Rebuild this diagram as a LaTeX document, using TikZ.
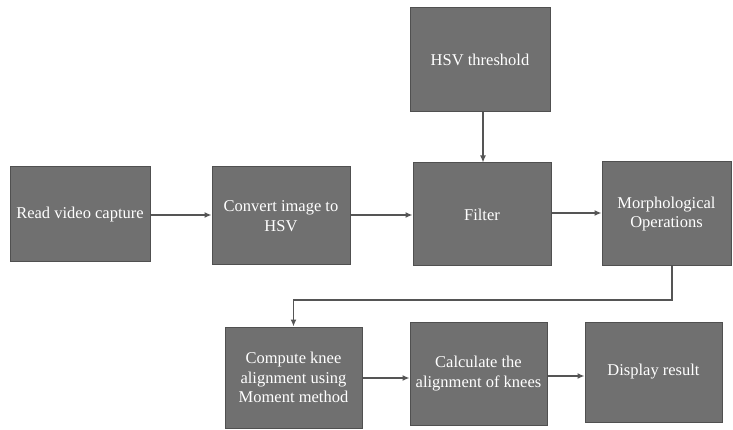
\documentclass[tikz,border=0pt]{standalone}
\usepackage{fontspec}
\setmainfont{Liberation Serif}
\usetikzlibrary{arrows.meta}
\definecolor{boxfill}{RGB}{112,112,112}
\definecolor{boxedge}{RGB}{80,80,80}
\definecolor{linec}{RGB}{85,85,85}
\tikzset{
  stepbox/.style={draw=boxedge, line width=1pt, fill=boxfill, text=white, align=center,
    font=\fontsize{16.5}{19.5}\selectfont, inner sep=1pt},
  conn/.style={draw=linec, line width=1.3pt, -{Latex[length=7pt,width=6pt]}}
}
\begin{document}
\begin{tikzpicture}[x=1pt,y=1pt]
\useasboundingbox[fill=white] (0,0) rectangle (733,-430);
\node[stepbox, minimum width=140pt, minimum height=95pt] (read) at (80,-214.5) {Read video capture};
\node[stepbox, minimum width=138pt, minimum height=98pt] (conv) at (281,-216) {Convert image to\\HSV};
\node[stepbox, minimum width=140pt, minimum height=104pt] (thr) at (480,-60) {HSV threshold};
\node[stepbox, minimum width=138pt, minimum height=103pt] (filt) at (482,-214.5) {Filter};
\node[stepbox, minimum width=129pt, minimum height=104pt] (morph) at (666.5,-214) {Morphological\\Operations};
\node[stepbox, minimum width=137pt, minimum height=101pt] (comp) at (293.5,-377.5) {Compute knee\\alignment using\\Moment method};
\node[stepbox, minimum width=137pt, minimum height=103pt] (calc) at (478.5,-373.5) {Calculate the\\alignment of knees};
\node[stepbox, minimum width=137pt, minimum height=100pt] (disp) at (653.5,-372) {Display result};
\coordinate (mtop) at (672,-266);
\draw[conn] (read.east |- 0,-215) -- (conv.west |- 0,-215);
\draw[conn] (conv.east |- 0,-215) -- (filt.west |- 0,-215);
\draw[conn] (thr.south -| 483,0) -- (filt.north -| 483,0);
\draw[conn] (filt.east |- 0,-213) -- (morph.west |- 0,-213);
\draw[conn] (morph.south -| 672,0) -- (672,-300) -| (comp.north);
\draw[conn] (comp.east |- 0,-378) -- (calc.west |- 0,-378);
\draw[conn] (calc.east |- 0,-376) -- (disp.west |- 0,-376);
\end{tikzpicture}
\end{document}
